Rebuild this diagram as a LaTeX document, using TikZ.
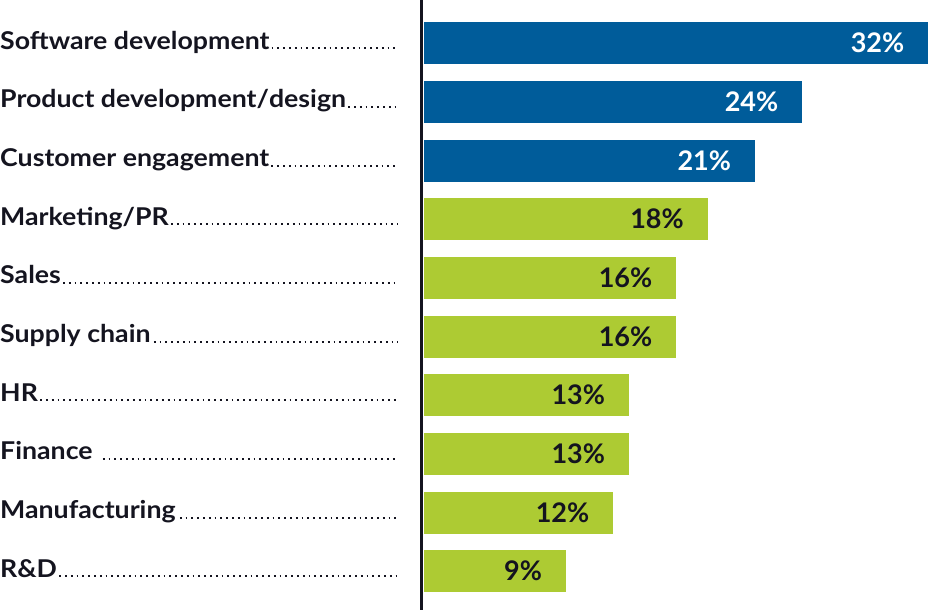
\documentclass[tikz,border=0pt]{standalone}
\usepackage{fontspec}
\setmainfont{Lato}
\newfontfamily\lblfont{Lato}[FakeStretch=1.09]
\definecolor{barblue}{HTML}{005C9A}
\definecolor{bargreen}{HTML}{ADCB33}
\definecolor{ink}{HTML}{14141F}
\begin{document}
\begin{tikzpicture}[x=1pt,y=-1pt,
  lbl/.style={anchor=base west,inner sep=0pt,font=\lblfont\fontsize{24.5}{28}\selectfont\bfseries,text=ink},
  leader/.style={ink,line width=1.8pt,dash pattern=on 1.8pt off 4pt},
  bar/.style={inner sep=0pt,anchor=north west,minimum height=42pt},
  val/.style={anchor=base east,inner sep=0pt,font=\fontsize{27}{30}\selectfont\bfseries}]
\useasboundingbox (0,0) rectangle (928,610);
\draw[ink,line width=3pt] (421,0) coordinate (axtop) -- (421,610) coordinate (axbot);
\foreach \i/\name/\v/\col/\tc/\gap in {
 0/Software development/32/barblue/white/2,
 1/Product development\slash design/24/barblue/white/2,
 2/Customer engagement/21/barblue/white/2,
 3/Marketing\slash PR/18/bargreen/ink/2,
 4/Sales/16/bargreen/ink/2,
 5/Supply chain/16/bargreen/ink/3,
 6/HR/13/bargreen/ink/2,
 7/Finance/13/bargreen/ink/10,
 8/Manufacturing/12/bargreen/ink/4,
 9/R\&D/9/bargreen/ink/2}{
  \pgfmathsetmacro{\cy}{43+58.67*\i}
  \node[lbl] (l\i) at (0,\cy+6.2) {\name};
  \coordinate (e\i) at (398,\cy+6.2);
  \draw[leader] ([xshift=\gap pt,yshift=0.9pt]l\i.base east) -- ([yshift=0.9pt]e\i);
  \pgfmathsetmacro{\w}{15.75*\v}
  \node[bar,fill=\col,minimum width=\w pt] (b\i) at (424,\cy-21) {};
  \node[val,text=\tc] (v\i) at ([xshift=-24pt,yshift=-9.7pt]b\i.east) {\v\%};
}
\end{tikzpicture}
\end{document}
